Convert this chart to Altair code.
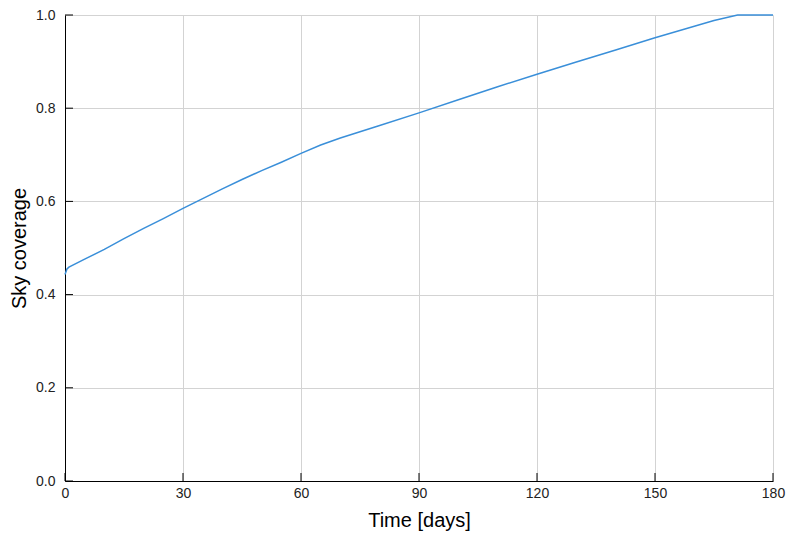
import altair as alt
import pandas as pd

# Data
days = [0, 0.5, 1, 5, 10, 15, 20, 25, 30, 35, 40, 45, 50, 55, 60, 65, 70,
        80, 90, 100, 110, 120, 130, 140, 150, 160, 165, 171, 180]
coverage = [0.443, 0.455, 0.459, 0.476, 0.497, 0.520, 0.542, 0.563, 0.585,
            0.606, 0.627, 0.647, 0.666, 0.684, 0.703, 0.721, 0.736, 0.763,
            0.790, 0.818, 0.846, 0.873, 0.899, 0.925, 0.951, 0.976, 0.988,
            1.0, 1.0]
x_ticks = [0, 30, 60, 90, 120, 150, 180]
y_ticks = [0.0, 0.2, 0.4, 0.6, 0.8, 1.0]

W, H = 708, 466
FONT = "Liberation Sans"

df = pd.DataFrame({"t": days, "v": coverage})
xt = pd.DataFrame({"t": x_ticks})
yt = pd.DataFrame({"v": y_ticks})

xscale = alt.Scale(domain=[0, 180], nice=False, zero=False)
yscale = alt.Scale(domain=[0, 1], nice=False)

line = alt.Chart(df).mark_line(color="#3a8fd9", strokeWidth=1.5).encode(
    x=alt.X("t:Q", scale=xscale,
            axis=alt.Axis(title="Time [days]", values=x_ticks, ticks=False,
                          labelFlush=False, grid=True, gridColor="#d3d3d3",
                          labelPadding=5, titlePadding=10, domainColor="black")),
    y=alt.Y("v:Q", scale=yscale,
            axis=alt.Axis(title="Sky coverage", values=y_ticks, ticks=False,
                          labelFlush=False, format=".1f", grid=True,
                          gridColor="#d3d3d3", labelPadding=10,
                          titlePadding=6, domainColor="black")),
)

xtick_rules = alt.Chart(xt).mark_rule(color="black", strokeWidth=1).encode(
    x=alt.X("t:Q", scale=xscale),
    y=alt.value(H),
    y2=alt.value(H - 8),
)
ytick_rules = alt.Chart(yt).mark_rule(color="black", strokeWidth=1).encode(
    y=alt.Y("v:Q", scale=yscale),
    x=alt.value(0),
    x2=alt.value(8),
)

chart = alt.layer(line, xtick_rules, ytick_rules).properties(
    width=W, height=H,
    autosize=alt.AutoSizeParams(type="none"),
    padding={"left": 57, "top": 7, "right": 15, "bottom": 50},
).configure_view(strokeWidth=0).configure_axis(
    labelFont=FONT, titleFont=FONT, labelFontSize=14, titleFontSize=20,
    labelColor="#222222", titleColor="black", titleFontWeight="normal",
)

chart.save("out.html", embed_options={"renderer": "svg", "actions": False})
